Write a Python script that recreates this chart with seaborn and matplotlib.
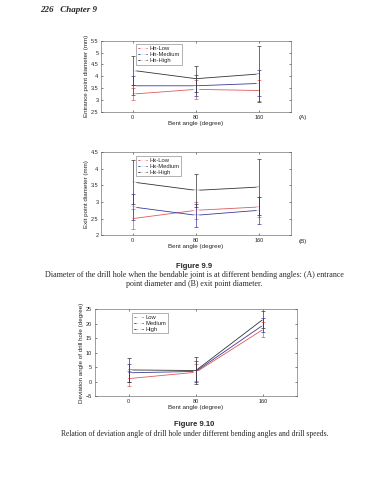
import matplotlib
matplotlib.use('Agg')
import matplotlib.pyplot as plt
import seaborn as sns
import numpy as np
import pandas as pd

sns.set_style('ticks')
plt.rcParams['font.family'] = ['Liberation Sans', 'DejaVu Sans']

# Dados
angles = [0, 80, 160]
levels = ['Low', 'Medium', 'High']

# Fig 9.9 (A) diametro de entrada
entr_mean = {'Low': [3.25, 3.45, 3.40], 'Medium': [3.60, 3.60, 3.70], 'High': [4.25, 3.90, 4.10]}
entr_err = {'Low': [0.25, 0.40, 0.45], 'Medium': [0.40, 0.45, 0.55], 'High': [0.60, 0.55, 1.20]}

# Fig 9.9 (B) diametro de saida
exit_mean = {'Low': [2.50, 2.75, 2.85], 'Medium': [2.85, 2.60, 2.75], 'High': [3.60, 3.35, 3.45]}
exit_err = {'Low': [0.30, 0.25, 0.30], 'Medium': [0.40, 0.35, 0.40], 'High': [0.65, 0.50, 0.85]}

# Fig 9.10 desvio angular
dev_mean = {'Low': [1.0, 3.2, 18.0], 'Medium': [3.0, 3.5, 19.5], 'High': [4.0, 3.8, 21.5]}
dev_err = {'Low': [2.5, 3.0, 2.5], 'Medium': [3.0, 3.5, 2.5], 'High': [4.0, 4.5, 3.0]}

colors = {'Low': '#e05a5a', 'Medium': '#3b3b9a', 'High': '#333333'}


def draw_panel(ax, means, errs, prefix, ylabel, yticks, ylim):
    rows = []
    for lv in levels:
        for a, m in zip(angles, means[lv]):
            rows.append({'angle': a, 'value': m, 'level': prefix + lv})
    df = pd.DataFrame(rows)
    pal = {prefix + lv: colors[lv] for lv in levels}
    sns.lineplot(data=df, x='angle', y='value', hue='level', palette=pal,
                 marker='+', markersize=4, markeredgewidth=0.6, linewidth=0.6, ax=ax)
    for lv in levels:
        ax.errorbar(angles, means[lv], yerr=errs[lv], fmt='none', ecolor=colors[lv],
                    elinewidth=0.5, capsize=1.2, capthick=0.5)
    ax.set_xlim(-40, 200)
    ax.set_ylim(*ylim)
    ax.set_xticks(angles)
    ax.set_yticks(yticks)
    ax.set_yticklabels([f'{t:g}'.replace('-', '\u2212') for t in yticks])
    ax.set_xlabel('Bent angle (degree)', fontsize=4.5, labelpad=1)
    ax.set_ylabel(ylabel, fontsize=4.5, labelpad=1)
    ax.tick_params(labelsize=4, length=1.5, width=0.4, direction='in', pad=2,
                   top=True, right=True)
    for s in ax.spines.values():
        s.set_linewidth(0.4)
        s.set_color('#555555')
    ax.legend(loc='upper left', bbox_to_anchor=(0.17, 0.99), fontsize=4.2, frameon=True,
              fancybox=False, edgecolor='#555555', borderpad=0.3, labelspacing=0.15,
              handlelength=1.6, handletextpad=0.4)
    ax.get_legend().get_frame().set_linewidth(0.4)


fig = plt.figure(figsize=(3.89, 4.8), dpi=100)

ax_a = fig.add_axes([0.260, 0.767, 0.488, 0.148])
draw_panel(ax_a, entr_mean, entr_err, 'Hn-', 'Entrance point diameter (mm)',
           [2.5, 3, 3.5, 4, 4.5, 5, 5.5], (2.5, 5.5))
ax_a.text(1.04, -0.08, '(A)', transform=ax_a.transAxes, fontsize=4.5, va='center')

ax_b = fig.add_axes([0.260, 0.510, 0.488, 0.173])
draw_panel(ax_b, exit_mean, exit_err, 'Hx-', 'Exit point diameter (mm)',
           [2, 2.5, 3, 3.5, 4, 4.5], (2, 4.5))
ax_b.text(1.04, -0.08, '(B)', transform=ax_b.transAxes, fontsize=4.5, va='center')

ax_c = fig.add_axes([0.244, 0.175, 0.519, 0.181])
draw_panel(ax_c, dev_mean, dev_err, '', 'Deviation angle of drill hole (degree)',
           [-5, 0, 5, 10, 15, 20, 25], (-5, 25))

# Textos da pagina
serif = ['Liberation Serif', 'DejaVu Serif']
fig.text(40 / 389, 1 - 10 / 480, '226   Chapter 9', fontsize=6.5, style='italic',
         weight='bold', family=serif, va='center')
fig.text(0.5, 1 - 266 / 480, 'Figure 9.9', fontsize=5.5, weight='bold', ha='center', va='center')
fig.text(0.5, 1 - 275 / 480,
         'Diameter of the drill hole when the bendable joint is at different bending angles: (A) entrance',
         fontsize=5.8, family=serif, ha='center', va='center')
fig.text(0.5, 1 - 284 / 480, 'point diameter and (B) exit point diameter.',
         fontsize=5.8, family=serif, ha='center', va='center')
fig.text(0.5, 1 - 425 / 480, 'Figure 9.10', fontsize=5.5, weight='bold', ha='center', va='center')
fig.text(0.5, 1 - 434 / 480,
         'Relation of deviation angle of drill hole under different bending angles and drill speeds.',
         fontsize=5.5, family=serif, ha='center', va='center')

fig.savefig('out.png', dpi=100)
